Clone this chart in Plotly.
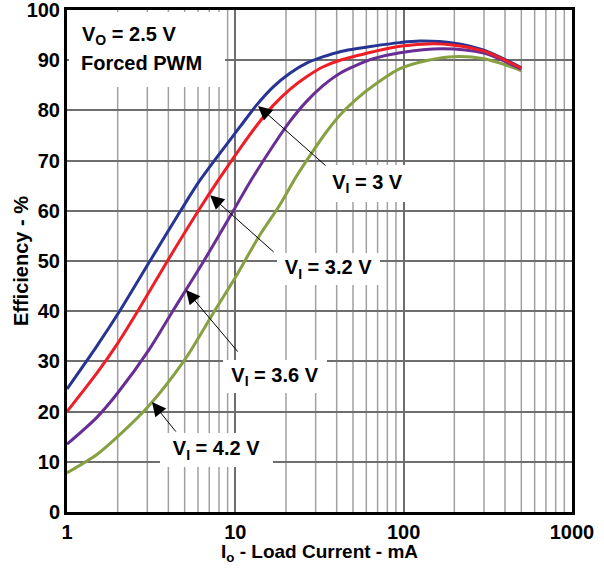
import plotly.graph_objects as go

# ---- data ----
i_3v0 = [1, 1.5, 2.07, 3.11, 4.73, 6.17, 10.7, 13.4, 16.8, 21.1, 26.5, 33.3, 41.9, 66, 95, 125, 200, 300, 500]
eff_3v0 = [24.5, 33.0, 40.2, 50, 60, 66.1, 76.8, 81.1, 84.7, 87.4, 89.4, 90.7, 91.7, 92.8, 93.5, 93.8, 93.4, 92.0, 88.5]

i_3v2 = [1, 1.5, 2, 2.65, 3.95, 6.03, 7.92, 10.7, 13.4, 16.8, 21.1, 26.5, 33.3, 41.9, 66, 95, 150, 200, 300, 500]
eff_3v2 = [20, 27.6, 33.6, 40.2, 50, 60, 66.1, 72.5, 77.0, 81.0, 84.2, 86.7, 88.7, 90.0, 91.7, 92.8, 93.3, 93.0, 91.8, 88.4]

i_3v6 = [1, 1.5, 2, 3.11, 4.28, 6.5, 9.73, 12.1, 16.8, 21.1, 26.5, 33.3, 41.9, 52.6, 66, 95, 170, 300, 500]
eff_3v6 = [13.5, 18.8, 23.7, 32.6, 40.2, 50, 60, 65.5, 73.0, 77.8, 81.8, 85.0, 87.4, 89.0, 90.3, 91.5, 92.3, 91.4, 88.2]

i_4v2 = [1, 1.5, 2, 3, 5, 7.57, 10, 12.2, 14, 18.4, 23, 28.4, 34.9, 41.9, 52.6, 66, 95, 140, 200, 300, 400, 500]
eff_4v2 = [7.8, 11.4, 15, 20.8, 30.3, 40.2, 46.7, 51.8, 55.2, 61.2, 66.8, 71.5, 75.8, 79.1, 82.3, 84.9, 88.3, 90.0, 90.7, 90.3, 89.1, 87.9]

x_tick_vals = [1, 10, 100, 1000]
x_tick_text = ["1", "10", "100", "1000"]
y_tick_vals = [0, 10, 20, 30, 40, 50, 60, 70, 80, 90, 100]
minor_x = [m * d for d in (1, 10, 100) for m in range(2, 10)]

FONT = "Liberation Sans, Arial, Helvetica, sans-serif"

fig = go.Figure()
series = [
    (i_4v2, eff_4v2, "rgb(134,160,66)", "VI = 4.2 V"),
    (i_3v6, eff_3v6, "rgb(104,46,148)", "VI = 3.6 V"),
    (i_3v0, eff_3v0, "rgb(40,52,148)", "VI = 3 V"),
    (i_3v2, eff_3v2, "rgb(238,30,38)", "VI = 3.2 V"),
]
for xs, ys, col, name in series:
    fig.add_trace(go.Scatter(x=xs, y=ys, mode="lines", name=name,
                             line=dict(color=col, width=3, shape="spline", smoothing=0.8)))

shapes = []
for v in minor_x:
    shapes.append(dict(type="line", xref="x", yref="y domain", x0=v, x1=v, y0=0, y1=1,
                       line=dict(color="#a0a0a0", width=1.5), layer="below"))

tfont = dict(family=FONT, size=20, color="black", weight="bold")
annotations = []
# title box + text
annotations.append(dict(text=" ", xref="paper", yref="paper", x=0.1584, y=0.921,
                        xanchor="center", yanchor="middle", width=156, height=75,
                        bgcolor="white", borderpad=0, borderwidth=0, showarrow=False, font=tfont))
annotations.append(dict(text="V<sub>O</sub> = 2.5 V", xref="paper", yref="paper", x=0.0257, y=0.950,
                        xanchor="left", yanchor="middle", showarrow=False, font=tfont))
annotations.append(dict(text="Forced PWM", xref="paper", yref="paper", x=0.0237, y=0.894,
                        xanchor="left", yanchor="middle", showarrow=False, font=tfont))
# series labels in white boxes
labels = [
    ("V<sub>I</sub> = 3 V", 0.595, 0.654, 85, 37),
    ("V<sub>I</sub> = 3.2 V", 0.518, 0.484, 103, 32),
    ("V<sub>I</sub> = 3.6 V", 0.412, 0.270, 104, 33),
    ("V<sub>I</sub> = 4.2 V", 0.296, 0.1235, 113, 34),
]
for txt, x, y, w, h in labels:
    annotations.append(dict(text=txt, xref="paper", yref="paper", x=x, y=y,
                            xanchor="center", yanchor="middle", width=w, height=h,
                            align="center", valign="middle",
                            bgcolor="white", borderpad=0, borderwidth=0,
                            showarrow=False, font=tfont))
annotations.append(dict(text="I<sub>o</sub> - Load Current - mA", xref="paper", yref="paper", x=0.5, y=-0.082,
                        xanchor="center", yanchor="middle", showarrow=False,
                        font=dict(family=FONT, size=19, color="black", weight="bold")))
annotations.append(dict(text="Efficiency - %", xref="paper", yref="paper", x=-0.091, y=0.5, textangle=-90,
                        xanchor="center", yanchor="middle", showarrow=False, font=tfont))
# arrows: tip in axis coords (log10 for x), tail offset in pixels
arrows = [
    (1.135, 80.9, 69, 61),
    (0.850, 63.1, 65, 58),
    (0.707, 44.2, 53, 63),
    (0.505, 21.9, 25, 31),
]
for lx, y, ax, ay in arrows:
    annotations.append(dict(text="", x=lx, y=y, xref="x", yref="y", ax=ax, ay=ay,
                            showarrow=True, arrowhead=2, arrowsize=2.8, arrowwidth=1,
                            arrowcolor="black", standoff=0))

fig.update_layout(
    width=604, height=569,
    margin=dict(l=67, r=32, t=10, b=57),
    paper_bgcolor="white", plot_bgcolor="white",
    showlegend=False,
    shapes=shapes, annotations=annotations,
    font=dict(family=FONT, color="black"),
)
fig.update_xaxes(type="log", range=[0, 3], tickvals=x_tick_vals, ticktext=x_tick_text,
                 automargin=False, ticklabeloverflow="allow",
                 showgrid=True, gridcolor="#6e6e6e", gridwidth=1.5,
                 showline=True, linecolor="black", linewidth=3, mirror=True,
                 ticks="", tickfont=dict(family=FONT, size=20, color="black", weight="bold"))
fig.update_yaxes(range=[0, 100], tickvals=y_tick_vals,
                 automargin=False, ticklabeloverflow="allow",
                 showgrid=True, gridcolor="#6e6e6e", gridwidth=1.5, zeroline=False,
                 showline=True, linecolor="black", linewidth=3, mirror=True,
                 ticks="", tickfont=dict(family=FONT, size=20, color="black", weight="bold"))

# remove the default 8px page margin so the figure fills the window exactly
fig.write_html("out.html", config={"displayModeBar": False},
               post_script="document.body.style.margin='0';")
